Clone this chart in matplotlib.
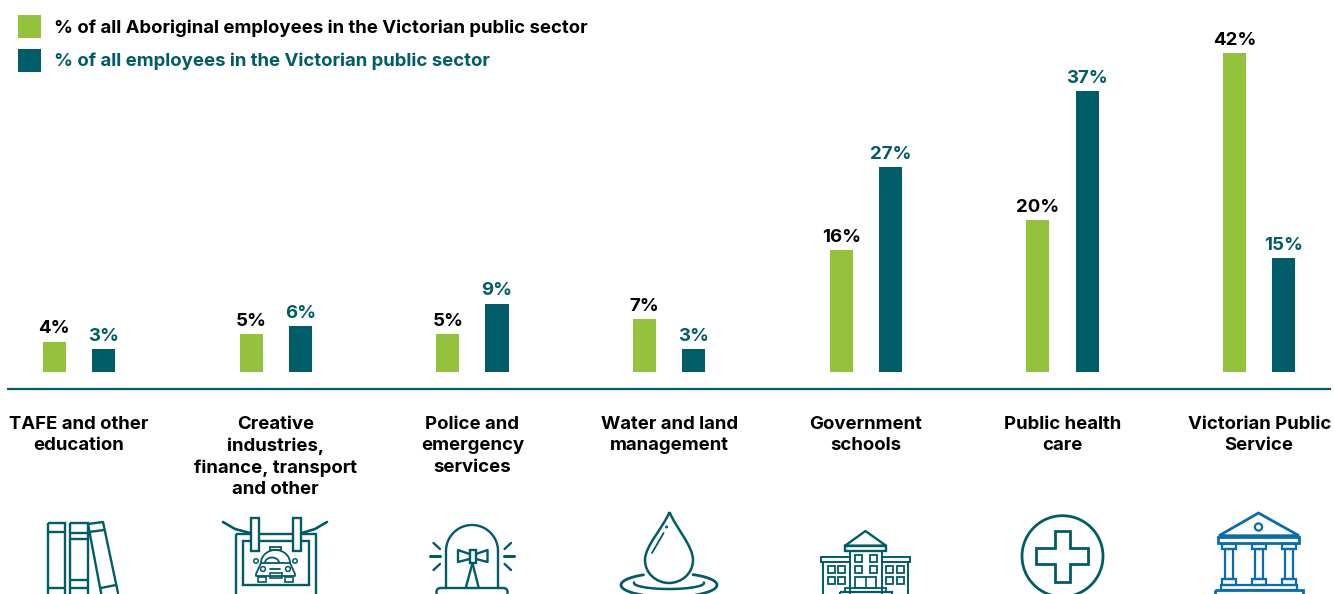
import numpy as np
import matplotlib
matplotlib.use("Agg")
import matplotlib.pyplot as plt
from matplotlib.patches import Rectangle, Circle, FancyBboxPatch, Polygon, PathPatch
from matplotlib.path import Path

sectors = ["TAFE and other\neducation", "Creative\nindustries,\nfinance, transport\nand other",
           "Police and\nemergency\nservices", "Water and land\nmanagement", "Government\nschools",
           "Public health\ncare", "Victorian Public\nService"]
aboriginal = [4, 5, 5, 7, 16, 20, 42]
all_employees = [3, 6, 9, 3, 27, 37, 15]
legend_labels = ["% of all Aboriginal employees in the Victorian public sector",
                 "% of all employees in the Victorian public sector"]

GREEN = "#95c23d"
TEAL = "#005c66"
BLUE = "#0a6cb0"
W, H = 1334, 594

plt.rcParams["font.family"] = ["Inter", "DejaVu Sans"]
plt.rcParams["font.weight"] = "bold"
FS = 13.4

fig = plt.figure(figsize=(W / 100, H / 100), dpi=100)
ax = fig.add_axes([0, (H - 372) / H, 1, 372 / H])

# bars: group spacing 196.7px, first group centre at 79px
x = np.arange(len(sectors))
ax.set_xlim(-79 / 196.7, (W - 79) / 196.7)
ax.set_ylim(0, 372 / 7.6)
bw = 23 / 196.7
off = 24.6 / 196.7
b1 = ax.bar(x - off, aboriginal, bw, color=GREEN, label=legend_labels[0])
b2 = ax.bar(x + off, all_employees, bw, color=TEAL, label=legend_labels[1])
ax.bar_label(b1, fmt="%d%%", padding=3, fontsize=FS, color="black", fontweight="bold")
ax.bar_label(b2, fmt="%d%%", padding=3, fontsize=FS, color=TEAL, fontweight="bold")

for s in ax.spines.values():
    s.set_visible(False)
ax.set_yticks([])
ax.set_xticks(x)
ax.set_xticklabels(sectors, fontsize=FS, linespacing=1.31, color="black", fontweight="bold")
ax.tick_params(axis="x", length=0, pad=32)

ax.legend(handles=[b1, b2], loc="upper left", bbox_to_anchor=(18 / W, (372 - 15) / 372),
          frameon=False, borderpad=0, borderaxespad=0, fontsize=FS,
          handlelength=1.236, handleheight=1.52, handletextpad=0.68, labelspacing=0.57,
          labelcolor=["black", TEAL])

# pixel overlay for the baseline and the icons
ov = fig.add_axes([0, 0, 1, 1], zorder=3)
ov.set_xlim(0, W)
ov.set_ylim(H, 0)
ov.axis("off")
ov.patch.set_alpha(0)
ov.plot([7, 1331], [388.5, 388.5], color=TEAL, lw=1.6, solid_capstyle="butt")


def ln(pts, c=TEAL, lw=1.7):
    p = np.array(pts, dtype=float)
    ov.plot(p[:, 0], p[:, 1], color=c, lw=lw, solid_capstyle="round", solid_joinstyle="round")


def box(x0, y0, x1, y1, c=TEAL, lw=1.7):
    ov.add_patch(Rectangle((x0, y0), x1 - x0, y1 - y0, fill=False, ec=c, lw=lw))


def wbox(x0, y0, x1, y1, c=TEAL, lw=1.7):
    ov.add_patch(Rectangle((x0, y0), x1 - x0, y1 - y0, fc="white", ec=c, lw=lw, zorder=4))


def arc(cx, cy, w, h, t0, t1, c=TEAL, lw=1.7):
    t = np.radians(np.linspace(t0, t1, 80))
    ov.plot(cx + w / 2 * np.cos(t), cy - h / 2 * np.sin(t), color=c, lw=lw, solid_capstyle="round")


# books
box(48, 523, 65, 600)
ln([(48, 532), (65, 532)])
ln([(48, 588), (65, 588)])
box(70, 523, 87.5, 600)
for yy in (533, 539, 580, 588):
    ln([(70, yy), (87.5, yy)])
ln([(88, 524), (103, 522), (118, 593)])
ln([(88, 524), (102, 598)])
ln([(89, 532), (104, 530)])
ln([(101, 588), (116, 585)])

# sign with taxi
ln([(223, 522), (235, 529), (250, 533)], lw=1.9)
ln([(327, 522), (315, 529), (302, 533)], lw=1.9)
box(236, 534, 316, 600)
box(243, 541, 309, 585)
wbox(251, 518, 258.5, 551)
wbox(293, 518, 301, 551)
box(270, 547, 281, 550, lw=1.3)
arc(275.5, 563, 29, 26, 0, 180, lw=1.3)
arc(272, 563, 14, 11, 0, 180, lw=1.3)
ln([(261, 563), (290, 563), (295, 574), (295, 576), (256, 576), (256, 574), (261, 563)], lw=1.3)
box(270, 573, 282, 578, lw=1.2)
ln([(270, 569), (280, 569)], lw=1.3)
ov.add_patch(Circle((263, 569), 2.4, fill=False, ec=TEAL, lw=1.1))
ov.add_patch(Circle((288, 569), 2.4, fill=False, ec=TEAL, lw=1.1))
ov.add_patch(Circle((256, 561), 2.2, fill=False, ec=TEAL, lw=1.1))
ov.add_patch(Circle((295, 561), 2.2, fill=False, ec=TEAL, lw=1.1))
box(258, 577, 266, 582, lw=1.2)
box(285, 577, 293, 582, lw=1.2)

# siren
arc(472, 551, 52, 52, 0, 180)
ln([(446, 551), (446, 588)])
ln([(498, 551), (498, 588)])
ov.add_patch(FancyBboxPatch((436.5, 588), 71, 20, boxstyle="round,pad=0,rounding_size=4", fill=False, ec=TEAL, lw=1.7))
box(469.5, 550, 476, 563)
ln([(469.5, 554), (458, 550), (458, 562), (469.5, 559)])
ln([(476, 554), (487.5, 550), (487.5, 562), (476, 559)])
ln([(472.5, 563), (466, 587)])
ln([(472.5, 563), (478.5, 587)])
ln([(430, 556), (440, 556)], lw=2.2)
ln([(504, 556), (513.5, 556)], lw=2.2)
ln([(433.5, 543), (440, 549)])
ln([(433.5, 570), (440, 564)])
ln([(511, 543), (504.6, 549)])
ln([(511, 570), (504.6, 564)])

# water drop
drop = Path([(669.5, 512), (663, 528), (645, 546), (645, 560), (645, 574), (657, 583), (669, 583),
             (681, 583), (693, 574), (693, 560), (693, 546), (676, 528), (669.5, 512)],
            [Path.MOVETO] + [Path.CURVE4] * 12)
ov.add_patch(PathPatch(drop, fill=False, ec=TEAL, lw=1.8))
ln([(663.6, 533), (652, 553)], lw=1.3)
ov.add_patch(Circle((666.6, 527), 0.8, color=TEAL))
arc(669, 585, 96, 24, 122, 420, lw=2)
arc(669, 583, 70, 12, 175, 365, lw=1.8)

# school building
ln([(845, 545.7), (865.5, 531), (886, 545.7), (845, 545.7)])
box(845, 546, 886, 551)
ln([(850, 551), (850, 594)], lw=1.4)
ln([(882, 551), (882, 594)], lw=1.4)
box(820.6, 557, 850, 562, lw=1.4)
box(882, 557, 910.4, 562, lw=1.4)
ln([(823, 562), (823, 596)], lw=1.4)
ln([(908, 562), (908, 596)], lw=1.4)
for wx in (855, 870):
    box(wx, 555, wx + 6.5, 562, lw=1.3)
    box(wx, 566, wx + 6.5, 573, lw=1.3)
for wx in (828, 838, 886, 897):
    box(wx, 566, wx + 6.5, 573, lw=1.3)
    box(wx, 577, wx + 6.5, 584, lw=1.3)
box(855, 577, 876, 588, lw=1.3)
ln([(865.5, 577), (865.5, 588)], lw=1.2)
box(845, 588, 886, 592, lw=1.3)
box(840, 592, 892, 596, lw=1.6)

# health cross
ov.add_patch(Circle((1062.5, 556.2), 40.5, fill=False, ec=TEAL, lw=2))
cross = [(1054.6, 531), (1070, 531), (1070, 548), (1088, 548), (1088, 564), (1070, 564), (1070, 582),
         (1054.6, 582), (1054.6, 564), (1036, 564), (1036, 548), (1054.6, 548)]
ov.add_patch(Polygon(cross, closed=True, fill=False, ec=TEAL, lw=2))

# public service building
ov.add_patch(Polygon([(1219, 535.7), (1258.5, 513), (1299, 535.7)], closed=True, fill=False, ec=BLUE, lw=2))
ov.add_patch(Circle((1258.5, 527), 3.6, fill=False, ec=BLUE, lw=1.6))
box(1218, 536.7, 1299.4, 543, c=BLUE, lw=2)
for cx in (1229, 1259, 1289):
    box(cx - 7, 544, cx + 7, 549, c=BLUE, lw=1.6)
    box(cx - 4, 549, cx + 4, 579, c=BLUE, lw=1.6)
    box(cx - 7, 579, cx + 7, 585, c=BLUE, lw=1.6)
box(1221, 585, 1297, 590, c=BLUE, lw=1.6)
box(1215, 590, 1303, 598, c=BLUE, lw=2)

fig.savefig("out.png", dpi=100)
